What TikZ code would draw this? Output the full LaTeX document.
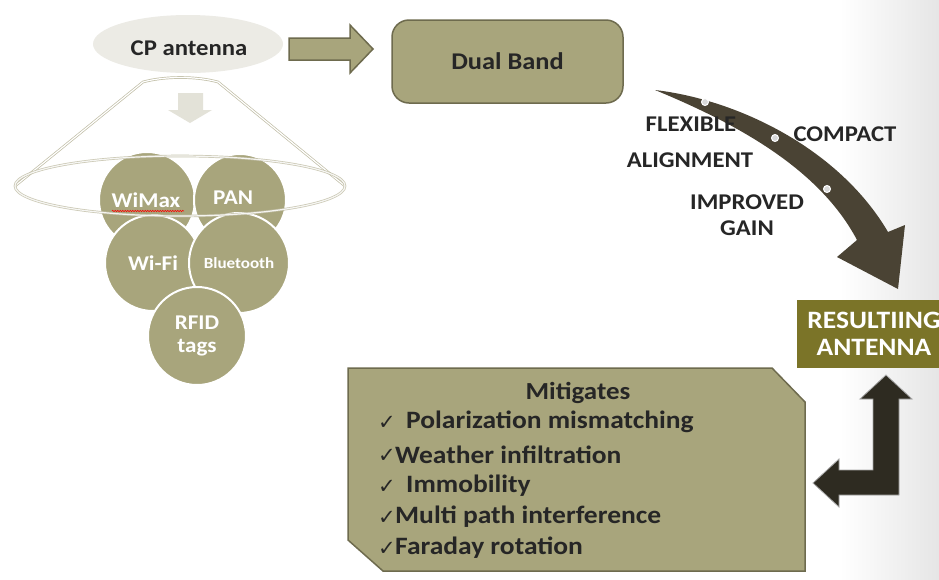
\documentclass[tikz,border=0pt]{standalone}
\usepackage{fontspec}
\setmainfont{Carlito}[FakeStretch=1.1]
\newfontfamily\symfont{DejaVu Sans}
\usetikzlibrary{calc,positioning,shapes.geometric,decorations.pathmorphing}
\definecolor{olivefill}{RGB}{168,165,124}
\definecolor{oliveline}{RGB}{110,107,78}
\definecolor{olivedark}{RGB}{123,116,40}
\definecolor{conegray}{RGB}{192,189,165}
\definecolor{cpgray}{RGB}{236,235,229}
\definecolor{downgray}{RGB}{227,226,216}
\definecolor{arrowbrown}{RGB}{74,67,52}
\definecolor{arrowdark}{RGB}{46,43,33}
\definecolor{textdark}{RGB}{38,38,38}

\begin{document}
\begin{tikzpicture}[x=1pt, y=-1pt,
    bubble/.style={circle, fill=olivefill, draw=white, line width=2pt, minimum size=#1, inner sep=0pt,
      text=white, font=\fontsize{21}{23}\selectfont\bfseries, align=center},
    bigtext/.style={text=textdark, font=\fontsize{24}{26}\selectfont\bfseries},
    feature/.style={text=textdark, font=\fontsize{22.5}{25}\selectfont\bfseries, inner sep=0pt},
    item/.style={anchor=west, text=textdark, font=\fontsize{25}{27}\selectfont\bfseries, inner sep=0pt},
    tick/.style={anchor=west, text=textdark, font=\symfont\fontsize{21}{21}\selectfont, inner sep=0pt}]
  \clip (0,0) rectangle (939,579);
  \fill[white] (0,0) rectangle (939,579);
  \shade[left color=white, right color=black!10] (840,0) rectangle (939,579);

  % CP antenna and Dual Band
  \node[ellipse, fill=cpgray, minimum width=190pt, minimum height=58pt] (cp) at (188,44) {};
  \node[bigtext, font=\fontsize{22.5}{24}\selectfont\bfseries] (cptxt) at (189,48) {CP antenna};
  \node[rectangle, rounded corners=17pt, fill=olivefill, draw=oliveline, line width=1.5pt,
    minimum width=231pt, minimum height=83pt, bigtext] (dual) at (507.5,61.5) {Dual Band};
  \draw[fill=olivefill, draw=oliveline, line width=1.5pt]
    (289,38) -- (350,38) -- (350,25) -- (373,49) -- (350,73) -- (350,60) -- (289,60) -- cycle;

  % Cone
  \draw[conegray, line width=0.7pt, double=white, double distance=1.2pt]
    (15,186) -- (143,82) .. controls (165,76) and (196,76) .. (218,82) -- (345,186);
  \fill[downgray] (178,93) -- (203,93) -- (203,110) -- (212,110) -- (190,123) -- (168,110) -- (178,110) -- cycle;

  % Bubbles
  \node[bubble=96pt] (wimax) at (147,200) {};
  \node[bubble=92pt] (pan) at (240,200) {};
  \node[bubble=96pt] (wifi) at (153,263) {Wi-Fi};
  \node[bubble=100pt, font=\fontsize{15.5}{17}\selectfont\bfseries] (bt) at (239,263) {Bluetooth};
  \node[bubble=98pt] (rfid) at (197,336) {RFID\\tags};
  \node[text=white, font=\fontsize{21}{23}\selectfont\bfseries] (wimaxtxt) at (146,200) {WiMax};
  \node[text=white, font=\fontsize{21}{23}\selectfont\bfseries] (pantxt) at (233,198) {PAN};
  \draw[red, line width=0.5pt, decorate, decoration={snake, amplitude=0.8pt, segment length=2.5pt}]
    (112,211) -- (184,211);
  \draw[conegray, opacity=0.85, line width=0.7pt, double=white, double distance=1.2pt]
    (180,186) ellipse [x radius=165, y radius=30];

  % Curved arrow
  \fill[arrowbrown] (655,90) .. controls (740,100) and (840,150) .. (888,232)
    -- (905,225) -- (898,289) -- (837,257) -- (857,240)
    .. controls (820,170) and (740,125) .. (655,90) -- cycle;
  \foreach \dx/\dy [count=\n] in {705/102, 775/138, 827/189}{
    \node[circle, fill=black!15, draw=white, line width=1pt, minimum size=7pt, inner sep=0pt] (dot\n) at (\dx,\dy) {};
  }
  \node[feature] (flex) at (691,124.5) {FLEXIBLE};
  \node[feature] (compact) at (845,134.5) {COMPACT};
  \node[feature] (align) at (690,160) {ALIGNMENT};
  \node[feature, align=center] (gain) at (747,215) {IMPROVED\\[1pt]GAIN};

  % Resulting antenna
  \node[rectangle, fill=olivedark, minimum width=154pt, minimum height=68pt, text=white,
    font=\fontsize{25}{27}\selectfont\bfseries, align=center] (result) at (874,334) {RESULTIING\\ANTENNA};

  % Bent arrow
  \draw[fill=arrowdark, draw=black!35, line width=0.8pt]
    (886,375) -- (912,399) -- (899,399) -- (899,495) -- (839,495) -- (839,507) -- (813,483)
    -- (839,459) -- (839,470) -- (873,470) -- (873,399) -- (860,399) -- cycle;

  % Mitigates box
  \draw[fill=olivefill, draw=oliveline, line width=1.5pt]
    (348,368) -- (772,368) -- (805,402) -- (805,571) -- (383,571) -- (348,540) -- cycle;
  \node[bigtext, font=\fontsize{24.5}{26}\selectfont\bfseries] (mtitle) at (578,393) {Mitigates};
  \foreach \ypos/\xpos/\txt [count=\k] in {422/406/Polarization mismatching, 455/395/Weather infiltration,
      486/406/Immobility, 517/395/Multi path interference, 548/395/Faraday rotation}{
    \node[tick] (tick\k) at (378,\ypos+1) {✓};
    \node[item] (item\k) at (\xpos,\ypos) {\txt};
  }
\end{tikzpicture}
\end{document}
